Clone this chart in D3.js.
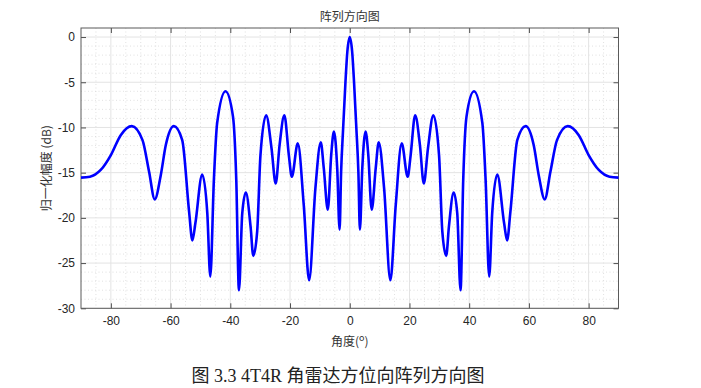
<!DOCTYPE html>
<html>
<head>
<meta charset="utf-8">
<script src="https://cdn.jsdelivr.net/npm/d3@7"></script>
<style>
body{margin:0;background:#fff;}
text{font-family:"Liberation Sans",Arial,"Noto Sans CJK SC",sans-serif;}
</style>
</head>
<body>
<svg id="chart" width="701" height="388"></svg>
<script>
// pattern: angle (deg) and normalised gain (dB)
var angles = [-90,-87,-83.4,-80,-76.7,-73,-69.4,-67.2,-65.3,-63.3,-61.6,-58.9,-56.1,-53.8,-52.7,-51.7,-49.4,-47.7,-46.7,-45.5,-44.4,-41.6,-39.1,-38,-37.1,-36,-34.8,-33.2,-32.3,-31,-29.9,-28,-26.2,-24.8,-23.5,-21.9,-20.4,-19.4,-17.4,-15.4,-13.6,-11.5,-9.7,-8.7,-7.35,-6.2,-5.3,-4.2,-3.4,-2.9,-2.2,-1.44,-0.8,0,
              0.8,1.44,2.2,2.9,3.4,4.2,5.3,6.2,7.35,8.7,9.7,11.5,13.6,15.4,17.4,19.4,20.4,21.9,23.5,24.8,26.2,28,29.9,31,32.3,33.2,34.8,36,37.1,38,39.1,41.6,44.4,45.5,46.7,47.7,49.4,51.7,52.7,53.8,56.1,58.9,61.6,63.3,65.3,67.2,69.4,73,76.7,80,83.4,87,90];
var gains  = [-15.55,-15.45,-14.7,-13.05,-10.85,-9.85,-11.4,-14.9,-17.95,-15.3,-11.95,-9.85,-11.4,-19.3,-22.5,-20.6,-15.2,-19.5,-26.5,-15.8,-9.5,-6.0,-8.8,-15.8,-28.0,-19.5,-17.2,-21.0,-24.2,-21.5,-13.05,-8.65,-12.3,-16.2,-11.95,-8.65,-13.05,-15.45,-11.75,-18.6,-26.9,-16.7,-11.65,-14.5,-19.1,-13.0,-10.45,-14.5,-21.3,-15,-10,-5,-1.6,0,
              -1.6,-5,-10,-15,-21.3,-14.5,-10.45,-13.0,-19.1,-14.5,-11.65,-16.7,-26.9,-18.6,-11.75,-15.45,-13.05,-8.65,-11.95,-16.2,-12.3,-8.65,-13.05,-21.5,-24.2,-21.0,-17.2,-19.5,-28.0,-15.8,-8.8,-6.0,-9.5,-15.8,-26.5,-19.5,-15.2,-20.6,-22.5,-19.3,-11.4,-9.85,-11.95,-15.3,-17.95,-14.9,-11.4,-9.85,-10.85,-13.05,-14.7,-15.45,-15.55];
var xTicks = [-80,-60,-40,-20,0,20,40,60,80];
var yTicks = [0,-5,-10,-15,-20,-25,-30];

var margin = {top:28,right:82.5,bottom:79.7,left:81};
var width = 701-margin.left-margin.right;
var height = 388-margin.top-margin.bottom;

var x = d3.scaleLinear().domain([-90,90]).range([0,width]);
var y = d3.scaleLinear().domain([-30,1]).range([height,0]);

var svg = d3.select("#chart");
var chart = svg.append("g").attr("transform","translate("+margin.left+","+margin.top+")");

// minor dotted grid
var xMinor = d3.range(-90,91,5).filter(d=>xTicks.indexOf(d)<0 && d>-90 && d<90);
var yMinor = d3.range(-30,2,1).filter(d=>yTicks.indexOf(d)<0 && d>-30 && d<1);
chart.append("g").selectAll("line").data(xMinor).enter().append("line")
    .attr("x1",d=>x(d)).attr("x2",d=>x(d)).attr("y1",0).attr("y2",height)
    .attr("stroke","#d4d4d4").attr("stroke-width",0.7).attr("stroke-dasharray","1,2.5");
chart.append("g").selectAll("line").data(yMinor).enter().append("line")
    .attr("y1",d=>y(d)).attr("y2",d=>y(d)).attr("x1",0).attr("x2",width)
    .attr("stroke","#d4d4d4").attr("stroke-width",0.7).attr("stroke-dasharray","1,2.5");

// major grid
chart.append("g").selectAll("line").data(xTicks).enter().append("line")
    .attr("x1",d=>x(d)).attr("x2",d=>x(d)).attr("y1",0).attr("y2",height)
    .attr("stroke","#e3e3e3").attr("stroke-width",1);
chart.append("g").selectAll("line").data(yTicks).enter().append("line")
    .attr("y1",d=>y(d)).attr("y2",d=>y(d)).attr("x1",0).attr("x2",width)
    .attr("stroke","#e3e3e3").attr("stroke-width",1);

// axes, ticks inward on all four sides
var fmt = d=>String(d);
var xaxis = d3.axisBottom(x).tickValues(xTicks).tickFormat(fmt).tickSizeInner(-5).tickSizeOuter(0).tickPadding(8);
var yaxis = d3.axisLeft(y).tickValues(yTicks).tickFormat(fmt).tickSizeInner(-5).tickSizeOuter(0).tickPadding(6);
var gx = chart.append("g").attr("transform","translate(0,"+height+")").call(xaxis);
var gy = chart.append("g").call(yaxis);
var gt = chart.append("g").call(d3.axisTop(x).tickValues(xTicks).tickFormat("").tickSizeInner(-5).tickSizeOuter(0));
var gr = chart.append("g").attr("transform","translate("+width+",0)")
    .call(d3.axisRight(y).tickValues(yTicks).tickFormat("").tickSizeInner(-5).tickSizeOuter(0));
[gx,gy,gt,gr].forEach(g=>{
    g.select(".domain").remove();
    g.selectAll(".tick line").attr("stroke","#262626").attr("stroke-width",0.8);
    g.selectAll(".tick text").attr("fill","#262626").style("font-size","12px");
});
chart.append("rect").attr("width",width).attr("height",height)
    .attr("fill","none").attr("stroke","#5a5a5a").attr("stroke-width",1);

// pattern curve
var line = d3.line().curve(d3.curveMonotoneX).x((d,i)=>x(angles[i])).y(d=>y(d));
chart.append("path").datum(gains).attr("d",line)
    .attr("fill","none").attr("stroke","#0000ff").attr("stroke-width",2.6)
    .attr("stroke-linejoin","round");

// labels
svg.append("text").attr("x",margin.left+width/2).attr("y",21).attr("text-anchor","middle")
    .attr("fill","#333").style("font-size","12px").style("font-family","'Noto Sans CJK SC',sans-serif")
    .text("阵列方向图");
svg.append("text").attr("transform","translate(51,"+(margin.top+height/2)+") rotate(-90)")
    .attr("text-anchor","middle").attr("fill","#333").style("font-size","12px")
    .style("font-family","'Noto Sans CJK SC',sans-serif").text("归一化幅度 (dB)");
var xl = svg.append("text").attr("x",margin.left+width/2).attr("y",346).attr("text-anchor","middle")
    .attr("fill","#333").style("font-size","12px").style("font-family","'Noto Sans CJK SC',sans-serif");
xl.append("tspan").text("角度(");
xl.append("tspan").attr("dy",-5).style("font-size","9px").text("o");
xl.append("tspan").attr("dy",5).text(")");

svg.append("text").attr("x",338).attr("y",382).attr("text-anchor","middle")
    .attr("fill","#222").style("font-size","18px")
    .style("font-family","'Liberation Serif','Times New Roman','Noto Sans CJK SC',serif")
    .text("图 3.3 4T4R 角雷达方位向阵列方向图");
</script>
</body>
</html>
